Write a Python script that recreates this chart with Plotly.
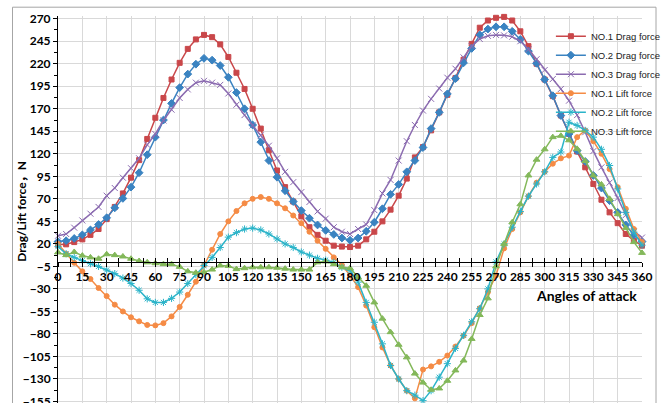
import plotly.graph_objects as go

angles = list(range(0, 365, 5))

drag_no1 = [19, 19.5, 22, 25, 30, 36.5, 47.5, 61, 76, 93.5, 113, 136.5,
            160, 182, 202.5, 221, 236.5, 247, 252, 249.5, 241.5, 227.5, 210, 192,
            170, 148, 124, 101.5, 83, 67, 50.5, 38.5, 30, 23.5, 18, 17,
            16.5, 18, 25, 33.5, 45, 58, 73.5, 92.5, 116, 127.5, 146, 166,
            185.5, 204, 224.5, 242, 260, 268, 271, 272, 268, 256, 239.5, 220,
            202.5, 184, 162.5, 142, 122.5, 105, 86.5, 69, 55, 43, 31, 23.5,
            18]
drag_no2 = [22.5, 23.5, 26, 30, 35.5, 41.5, 49, 60, 70.5, 83, 99, 119,
            138.5, 157.5, 176, 193.5, 208.5, 219.5, 226, 224, 218, 205, 188, 170,
            152, 133, 112.5, 94, 79, 67, 57, 48.5, 41, 35, 30.5, 26.5,
            24, 26.5, 34, 44, 59, 75, 86, 100, 112.5, 127, 148, 166,
            186.5, 203.5, 221, 237, 252, 258.5, 261, 261, 256, 247, 234, 220.5,
            202.5, 184.5, 162.5, 142, 123.5, 111.5, 96, 82, 68, 55, 41, 30,
            22.5]
drag_no3 = [29, 31, 38, 46, 53.5, 61, 73.5, 82, 93.5, 104, 115, 130,
            142, 157, 169, 182, 191.5, 199, 201, 199, 196.5, 187, 174.5, 163,
            151.5, 140.5, 129, 115, 100, 88.5, 77.5, 66.5, 56, 48, 38.5, 33.5,
            31, 36.5, 41.5, 57.5, 76, 91, 112.5, 134, 152, 168, 181, 192.5,
            204.5, 214.5, 227, 239.5, 247.5, 251, 252, 251.5, 250, 245, 236, 225,
            213, 203, 192, 179, 163, 144, 123, 105, 88, 71, 52, 34,
            27]
lift_no1 = [20, 9, -1, -10.5, -19, -29, -38, -47.5, -55, -61.5, -66, -70,
            -70.5, -68, -60.5, -50, -36.5, -22, -4, 13.5, 31, 45, 56.5, 65,
            70, 72, 70, 65, 59.5, 51.5, 43, 33.5, 23.5, 14.5, 5, -3.5,
            -15, -28, -48.5, -72.5, -95, -115, -130, -143, -151.5, -119.5, -116, -111,
            -104, -94, -82, -68, -51.5, -33.5, -15, 15, 36.5, 55, 73, 88,
            100, 109, 115, 118, 138.5, 146, 134, 120, 103, 83, 59, 36.5,
            22]
lift_no2 = [17, 9, 5, 1.5, -2, -5, -9, -13, -18, -24, -31.5, -41,
            -45, -45, -40.5, -33.5, -24, -14, -4, 5, 16, 27.5, 32.5, 36.5,
            37.5, 35.5, 31, 25.5, 20, 16, 11, 7.5, 4, 2, -0.5, -6,
            -9.5, -22.5, -45, -67, -91, -115, -130, -143, -148, -154, -143, -128,
            -113, -96, -81.5, -66.5, -52, -30, 0, 20, 38.5, 56, 73, 86.5,
            100, 116, 122, 155, 151.5, 146, 138.5, 125, 107, 81, 55, 33,
            18.5]
lift_no3 = [10.5, 7.5, 11, 7, 5, 3.5, 8.5, 7.5, 6, 3.5, 1, -0.5,
            -1.5, -2.5, -2.5, -5.5, -10.5, -12, -11.5, -8.5, -4, -4.5, -8, -7,
            -6, -6, -6, -6.5, -7.5, -8.5, -8.5, -8.5, -0.5, 0.5, -2.5, -6,
            -7, -17, -26.5, -45, -63, -78, -92, -106, -124, -134, -142, -140.5,
            -132, -120.5, -109.5, -85.5, -59, -40.5, -5, 20, 44, 64, 96, 113.5,
            125, 138.5, 140, 135, 125.5, 112, 96, 86, 70, 53, 37.5, 22,
            10]

series_names = ["NO.1 Drag force", "NO.2 Drag force", "NO.3 Drag force",
                "NO.1 Lift force", "NO.2 Lift force", "NO.3 Lift force"]
series_values = [drag_no1, drag_no2, drag_no3, lift_no1, lift_no2, lift_no3]
colors = ["#C9474A", "#3A83C1", "#8B6BB0", "#F58B45", "#2BB4C9", "#83B85A"]
symbols = ["square", "diamond", "x-thin", "circle", "asterisk", "triangle-up"]
sizes = [5, 6, 6, 5, 6, 6]

# pixel geometry: 0.9 px per unit
T_MARGIN = 16.3
Y_MAX = 273
Y_MIN = Y_MAX - (403 - T_MARGIN) / 0.9
x_pos = (0 - Y_MIN) / (Y_MAX - Y_MIN)
plot_h = 403 - T_MARGIN

fig = go.Figure()
for name, vals, col, sym, sz in zip(series_names, series_values, colors, symbols, sizes):
    fig.add_trace(go.Scatter(
        x=angles, y=vals, name=name, mode="lines+markers", cliponaxis=False,
        line=dict(color=col, width=1.5),
        marker=dict(symbol=sym, size=sz, color=col, line=dict(color=col, width=1)),
    ))
# helper trace to attach overlay axis (inside ticks)
fig.add_trace(go.Scatter(x=[], y=[], xaxis="x2", showlegend=False, hoverinfo="skip"))

tickfont = dict(family="Lato, Noto Sans CJK SC", size=12, color="#000000", weight="bold")

fig.update_layout(
    width=663, height=403,
    margin=dict(l=58, r=21, t=T_MARGIN, b=0, autoexpand=False),
    paper_bgcolor="white", plot_bgcolor="white",
    xaxis=dict(range=[0, 360], dtick=15, tick0=0, anchor="free", position=x_pos,
               showgrid=True, gridcolor="#d9d9d9", gridwidth=1, automargin=False,
               showline=True, linecolor="black", linewidth=1, zeroline=False,
               ticks="outside", ticklen=4, tickcolor="black",
               minor=dict(ticks="outside", ticklen=4, dtick=7.5, tickcolor="black", showgrid=False),
               tickfont=tickfont),
    xaxis2=dict(range=[0, 360], overlaying="x", anchor="free", position=x_pos,
                dtick=7.5, ticks="inside", ticklen=4, tickcolor="black", automargin=False,
                showticklabels=False, showgrid=False, showline=False, zeroline=False),
    yaxis=dict(range=[Y_MIN, Y_MAX], tick0=-155, dtick=25, automargin=False,
               showgrid=True, gridcolor="#d9d9d9", gridwidth=1,
               showline=True, linecolor="black", linewidth=1, zeroline=False,
               ticks="outside", ticklen=4, tickcolor="black", ticklabeloverflow="allow",
               minor=dict(ticks="outside", ticklen=3, dtick=12.5, tick0=-155, tickcolor="black", showgrid=False),
               tickfont=tickfont),
    legend=dict(x=0.844, y=1 - (22 - T_MARGIN) / plot_h, xanchor="left", yanchor="top",
                bgcolor="rgba(0,0,0,0)", borderwidth=0,
                font=dict(family="Liberation Sans, Arial", size=9.5, color="#222222")),
    showlegend=True,
)

fig.add_annotation(text="Drag/Lift force，N", textangle=-90,
                   xref="paper", yref="paper", x=(22 - 58) / 584, y=1 - (212 - T_MARGIN) / plot_h,
                   xanchor="center", yanchor="middle", showarrow=False,
                   font=dict(family="Lato, Noto Sans CJK SC", size=12, color="#000000", weight="bold"))
fig.add_annotation(text="Angles of attack",
                   xref="paper", yref="paper", x=(586 - 58) / 584, y=1 - (296 - T_MARGIN) / plot_h,
                   xanchor="center", yanchor="middle", showarrow=False,
                   font=dict(family="Lato", size=14, color="#000000", weight="bold"))

fig.add_shape(type="rect", xref="paper", yref="paper",
              x0=(12.5 - 58) / 584, x1=(656 - 58) / 584,
              y0=-0.1, y1=1 + (T_MARGIN - 7.5) / plot_h,
              line=dict(color="#a6a6a6", width=1), fillcolor="rgba(0,0,0,0)", layer="below")

fig.write_html("out.html")
